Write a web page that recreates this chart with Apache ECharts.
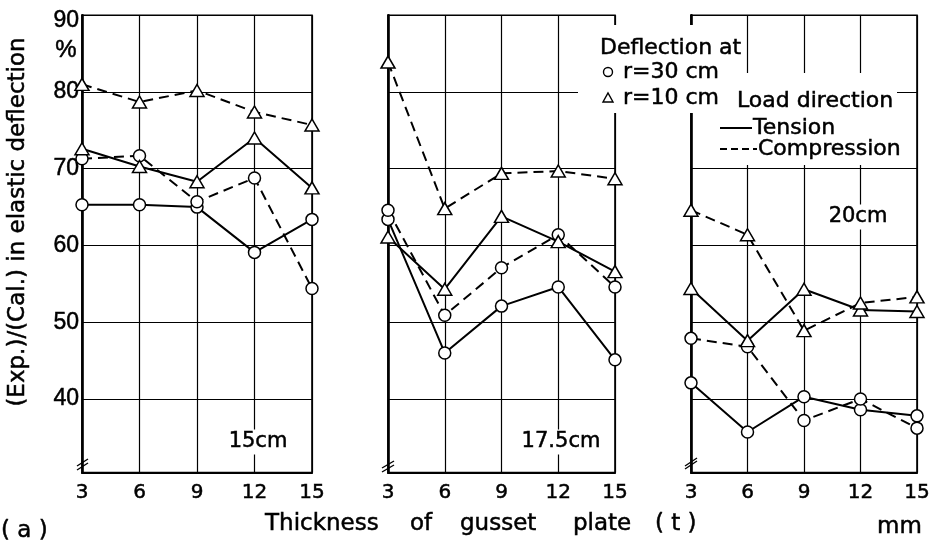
<!DOCTYPE html>
<html><head><meta charset="utf-8">
<script src="https://cdn.jsdelivr.net/npm/echarts@6/dist/echarts.min.js"></script>
<style>html,body{margin:0;padding:0;background:#fff}#c{width:933px;height:545px}</style>
</head><body><div id="c"></div>
<script>
// ---- data ----
const thickness = [3, 6, 9, 12, 15];
const panelNames = ['15cm', '17.5cm', '20cm'];
// r = 30 cm (circles), r = 10 cm (triangles); Tension (solid), Compression (dashed)
const p15_tension_r30 = [65.3, 65.3, 65.0, 59.1, 63.4];
const p15_compr_r30   = [71.3, 71.7, 65.7, 68.8, 54.4];
const p15_tension_r10 = [72.6, 70.3, 68.3, 74.0, 67.5];
const p15_compr_r10   = [81.0, 78.7, 80.2, 77.4, 75.7];

const p175_tension_r30 = [63.4, 46.0, 52.1, 54.6, 45.1];
const p175_compr_r30   = [64.6, 50.9, 57.1, 61.4, 54.6];
const p175_tension_r10 = [61.1, 54.3, 63.8, 60.5, 56.6];
const p175_compr_r10   = [83.9, 64.8, 69.4, 69.7, 68.7];

const p20_tension_r30 = [42.1, 35.7, 40.3, 38.6, 37.8];
const p20_compr_r30   = [47.9, 46.8, 37.2, 40.0, 36.2];
const p20_tension_r10 = [54.4, 47.6, 54.3, 51.6, 51.4];
const p20_compr_r10   = [64.6, 61.4, 48.9, 52.5, 53.3];

const yMin = 30.42, yMax = 90;

const panelData = [
  [p15_tension_r30, p15_compr_r30, p15_tension_r10, p15_compr_r10],
  [p175_tension_r30, p175_compr_r30, p175_tension_r10, p175_compr_r10],
  [p20_tension_r30, p20_compr_r30, p20_tension_r10, p20_compr_r10]
];
const seriesKinds = [
  {name: 'Tension r=30 cm', symbol: 'circle', dashed: false},
  {name: 'Compression r=30 cm', symbol: 'circle', dashed: true},
  {name: 'Tension r=10 cm', symbol: 'triangle', dashed: false},
  {name: 'Compression r=10 cm', symbol: 'triangle', dashed: true}
];

// ---- layout ----
const FONT = 'DejaVu Sans';
const HEAVY = {textBorderColor: '#000', textBorderWidth: 0.5};
const gridBoxes = [
  {left: 82, top: 15.25, width: 230, height: 457.25},
  {left: 388, top: 15.25, width: 227, height: 457.25},
  {left: 691, top: 15.25, width: 226, height: 457.25}
];

const grid = gridBoxes.map(b => Object.assign({show: true, borderColor: '#000', borderWidth: 1.6, backgroundColor: 'transparent'}, b));
const xAxis = gridBoxes.map((b, i) => ({
  type: 'value', gridIndex: i, min: 3, max: 15, interval: 3,
  axisLine: {lineStyle: {color: '#000', width: 2.2}},
  axisTick: {show: false},
  axisLabel: Object.assign({color: '#000', fontSize: 20, fontFamily: FONT, margin: 10}, HEAVY),
  splitLine: {show: true, lineStyle: {color: '#000', width: 1.2}}
}));
const yAxis = gridBoxes.map((b, i) => ({
  type: 'value', gridIndex: i, min: yMin, max: yMax, splitNumber: 6,
  axisLine: {show: true, lineStyle: {color: '#000', width: 2.6}},
  axisTick: {show: false},
  axisLabel: Object.assign({show: i === 0, showMinLabel: false, color: '#000', fontSize: 23, fontFamily: 'Liberation Sans', margin: 3,
    formatter: v => v === yMax ? '{top|' + v + '}' : String(v),
    rich: {top: {fontSize: 23, fontFamily: 'Liberation Sans', color: '#000', padding: [10, 0, 0, 0], textBorderColor: '#000', textBorderWidth: 0.5}}
  }, HEAVY),
  splitLine: {show: true, lineStyle: {color: '#000', width: 1.2}}
}));

const series = [];
panelData.forEach((arrs, p) => {
  arrs.forEach((vals, k) => {
    const kind = seriesKinds[k];
    series.push({
      type: 'line', name: panelNames[p] + ' ' + kind.name,
      xAxisIndex: p, yAxisIndex: p,
      data: thickness.map((t, i) => [t, vals[i]]),
      symbol: kind.symbol, symbolSize: kind.symbol === 'circle' ? 12 : [14, 12],
      showAllSymbol: true,
      lineStyle: {color: '#000', width: 2, type: kind.dashed ? [10, 6] : 'solid'},
      itemStyle: {color: '#fff', borderColor: '#000', borderWidth: 1.5},
      emphasis: {disabled: true},
      z: 5, animation: false
    });
  });
});

const GSTROKE = {stroke: '#000', lineWidth: 0.5};
const txt = (text, x, y, size, extra) => Object.assign({
  type: 'text', x: x, y: y, z: 60,
  style: Object.assign({text: text, fill: '#000', fontSize: size, fontFamily: FONT, align: 'left', verticalAlign: 'middle'}, GSTROKE, extra || {})
});
const ln = (x1, y1, x2, y2, w, dash) => ({
  type: 'line', z: 60, shape: {x1, y1, x2, y2},
  style: {stroke: '#000', lineWidth: w, lineDash: dash || null}
});

const graphic = [
  // masks behind the legend block
  {type: 'rect', z: 50, shape: {x: 578, y: 25, width: 157, height: 88}, style: {fill: '#fff'}},
  {type: 'rect', z: 50, shape: {x: 735, y: 73, width: 162, height: 92}, style: {fill: '#fff'}},
  // legend
  txt('Deflection at', 600, 48, 22),
  {type: 'circle', z: 60, shape: {cx: 608, cy: 72, r: 4.5}, style: {fill: '#fff', stroke: '#000', lineWidth: 1.4}},
  txt('r=30 cm', 623, 72, 22),
  {type: 'polygon', z: 60, shape: {points: [[603, 102], [613, 102], [608, 93]]}, style: {fill: '#fff', stroke: '#000', lineWidth: 1.4}},
  txt('r=10 cm', 623, 98, 22),
  txt('Load direction', 737, 101, 22),
  ln(720, 128, 752, 128, 2),
  txt('Tension', 753, 128, 22),
  ln(720, 149, 757, 149, 2, [7, 4]),
  txt('Compression', 758, 149, 22),
  // panel labels
  txt('15cm', 258, 442, 21, {align: 'center', backgroundColor: '#fff', padding: [2, 3]}),
  txt('17.5cm', 561, 442, 21, {align: 'center', backgroundColor: '#fff', padding: [2, 3]}),
  txt('20cm', 858, 217, 21, {align: 'center', backgroundColor: '#fff', padding: [2, 3]}),
  // % unit
  txt('%', 66, 50, 24, {align: 'center', fontFamily: 'Liberation Sans'}),
  // axis titles
  {type: 'text', z: 60, x: 18, y: 222, rotation: Math.PI / 2,
   style: Object.assign({text: '(Exp.)/(Cal.) in elastic deflection', fill: '#000', fontSize: 23, fontFamily: FONT, align: 'center', verticalAlign: 'middle'}, GSTROKE)},
  txt('Thickness', 265, 524, 23),
  txt('of', 410, 524, 23),
  txt('gusset', 460, 524, 23),
  txt('plate', 573, 524, 23),
  txt('( t )', 655, 524, 23),
  txt('mm', 877, 527, 23),
  txt('( a )', 1, 531, 23),
  // axis break marks
  ln(77, 466, 88, 459, 1.4), ln(77, 470, 88, 463, 1.4),
  ln(382, 468, 394, 461, 1.4), ln(382, 472, 394, 465, 1.4),
  ln(685, 466, 697, 458, 1.4), ln(685, 469, 697, 461, 1.4)
];

const chart = echarts.init(document.getElementById('c'), null, {renderer: 'canvas'});
chart.setOption({
  animation: false,
  backgroundColor: '#fff',
  grid, xAxis, yAxis, series, graphic
});
</script></body></html>
